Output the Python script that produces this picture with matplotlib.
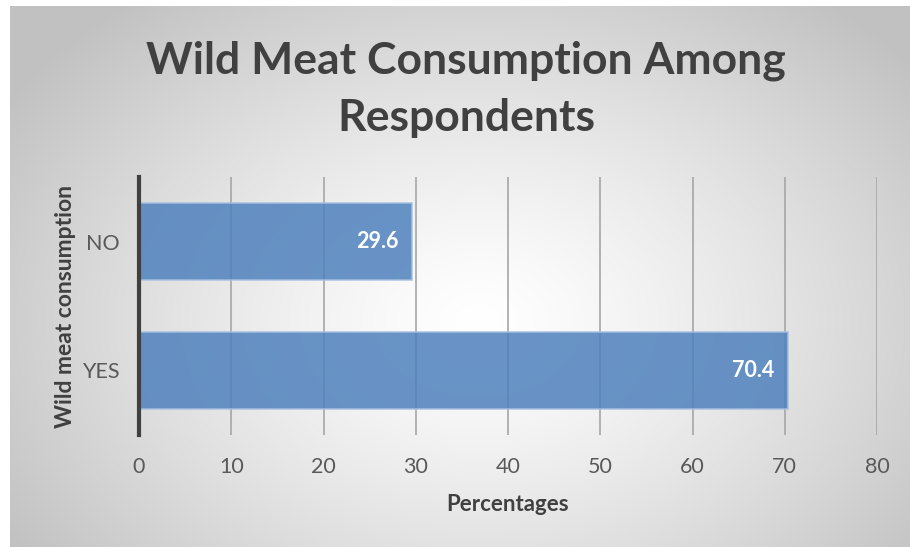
import numpy as np
import matplotlib
matplotlib.use("Agg")
import matplotlib.pyplot as plt

categories = ["YES", "NO"]
percentages = [70.4, 29.6]
x_ticks = [0, 10, 20, 30, 40, 50, 60, 70, 80]

title = "Wild Meat Consumption Among\nRespondents"
x_label = "Percentages"
y_label = "Wild meat consumption"

FONT = "Lato"
W, H = 910, 547
fig = plt.figure(figsize=(W / 100, H / 100), dpi=100)
fig.patch.set_facecolor("white")

# Radial-gradient chart background panel
bg = fig.add_axes([10 / W, 0, 900 / W, 541 / H])
bg.set_axis_off()
ny, nx = 300, 500
yy, xx = np.mgrid[0:ny, 0:nx]
cx, cy = 0.52 * nx, 0.58 * ny
d = np.sqrt(((xx - cx) / (0.62 * nx)) ** 2 + ((yy - cy) / (0.75 * ny)) ** 2)
d = np.clip(d, 0, 1)
light, dark = 1.0, 0.76
val = light - (light - dark) * d ** 1.3
img = np.dstack([val, val, val])
bg.imshow(img, aspect="auto", extent=[0, 1, 0, 1], origin="upper", interpolation="bilinear")
bg.set_xlim(0, 1)
bg.set_ylim(0, 1)

ax = fig.add_axes([139 / W, 1 - 435 / H, (877 - 139) / W, (435 - 177) / H])
ax.patch.set_alpha(0)

bar_color = "#4F81BD"
bars = ax.barh(range(len(categories)), percentages, height=0.6,
               color=bar_color, alpha=0.85, edgecolor="#A7C0E0", linewidth=1.2, zorder=3)

for i, v in enumerate(percentages):
    ax.text(v - 1.5, i, f"{v:.1f}", ha="right", va="center", color="white",
            fontsize=15.5, fontweight="bold", family=FONT, zorder=4)

ax.set_xlim(0, 80)
ax.set_ylim(-0.5, 1.5)
ax.set_xticks(x_ticks)
ax.set_xticklabels([str(t) for t in x_ticks], fontsize=15.5, color="#595959", family=FONT)
ax.set_yticks(range(len(categories)))
ax.set_yticklabels(categories, fontsize=15.5, color="#595959", family=FONT)
ax.tick_params(axis="both", length=0)
ax.tick_params(axis="x", pad=16)
ax.tick_params(axis="y", pad=14)

ax.grid(axis="x", color="#A6A6A6", linewidth=1.2, zorder=1)
ax.grid(axis="y", visible=False)
for s in ["top", "right", "bottom"]:
    ax.spines[s].set_visible(False)
ax.spines["left"].set_color("#404040")
ax.spines["left"].set_linewidth(3)
ax.spines["left"].set_zorder(5)

ax.set_xlabel(x_label, fontsize=16, fontweight="bold", color="#404040", family=FONT, labelpad=12)
ax.set_ylabel(y_label, fontsize=16.5, fontweight="bold", color="#404040", family=FONT, labelpad=4)

fig.text(466 / W, 1 - 89 / H, title, ha="center", va="center", fontsize=32,
         fontweight="bold", color="#404040", family=FONT, linespacing=1.5)

fig.savefig("out.png", dpi=100)
